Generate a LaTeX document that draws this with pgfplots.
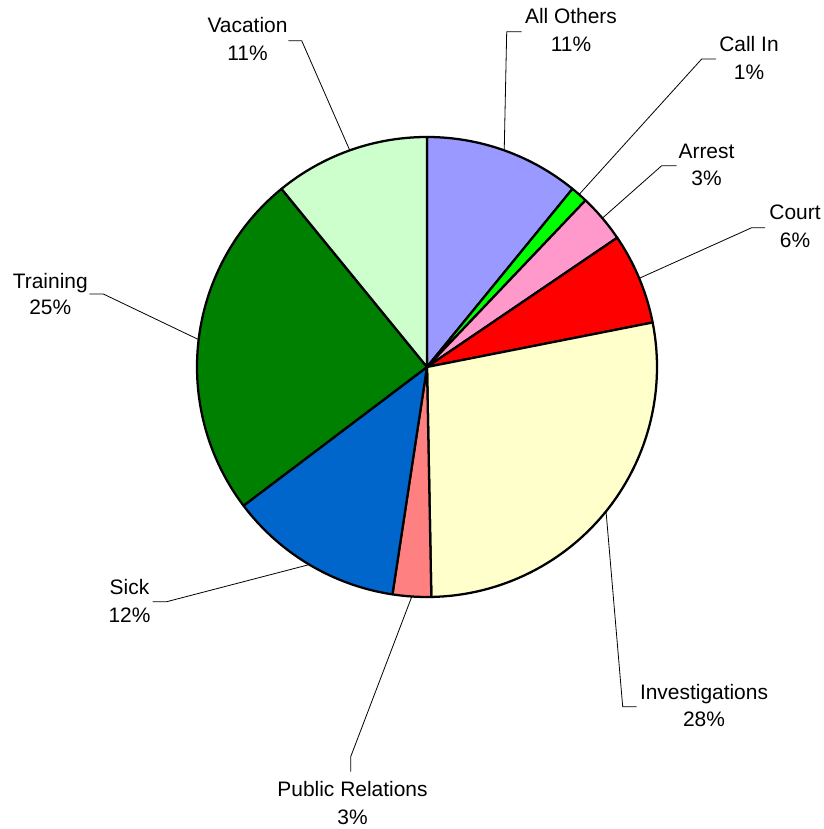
\documentclass[border=0pt]{standalone}
\usepackage{pgfplots}
\pgfplotsset{compat=1.18}
\usepackage{pgfplotstable}
\usepackage{fontspec}
\setmainfont{Liberation Sans}

\definecolor{slice0}{HTML}{9999FF}
\definecolor{slice1}{HTML}{00FF00}
\definecolor{slice2}{HTML}{FF99CC}
\definecolor{slice3}{HTML}{FF0000}
\definecolor{slice4}{HTML}{FFFFCC}
\definecolor{slice5}{HTML}{FF8080}
\definecolor{slice6}{HTML}{0066CC}
\definecolor{slice7}{HTML}{008000}
\definecolor{slice8}{HTML}{CCFFCC}

% share of each category (percent), clockwise from 12 o'clock
\pgfplotstableread{
label pct
AllOthers 10.9
CallIn 1.2
Arrest 3.4
Court 6.4
Investigations 27.8
PublicRelations 2.7
Sick 12.3
Training 24.4
Vacation 10.9
}\piedata

\def\cx{427}\def\cy{462}\def\rr{230}
\def\cum{0}
\pgfplotsforeachungrouped \i in {0,...,8}{%
  \pgfplotstablegetelem{\i}{pct}\of\piedata
  \pgfmathsetmacro\sa{90-3.6*\cum}%
  \pgfmathsetmacro\cum{\cum+\pgfplotsretval}%
  \pgfmathsetmacro\ea{90-3.6*\cum}%
  \pgfmathsetmacro\ma{(\sa+\ea)/2}%
  \pgfmathsetmacro\mx{\cx+\rr*cos(\ma)}%
  \pgfmathsetmacro\my{\cy+\rr*sin(\ma)}%
  \expandafter\xdef\csname ps\i\endcsname{\sa}%
  \expandafter\xdef\csname pe\i\endcsname{\ea}%
  \expandafter\xdef\csname pmx\i\endcsname{\mx}%
  \expandafter\xdef\csname pmy\i\endcsname{\my}%
}

\newcommand\lbl{\fontsize{15.7pt}{19pt}\selectfont}

\begin{document}
\begin{tikzpicture}[lb/.style={anchor=base, inner sep=0pt, font=\lbl}]
\begin{axis}[
  width=618pt, height=621.75pt, scale only axis,
  xmin=0, xmax=824, ymin=0, ymax=829,
  hide axis, clip=false,
]
\coordinate (BL) at (axis cs:0,0);
\coordinate (TR) at (axis cs:824,829);
% wedges
\pgfplotsinvokeforeach{0,...,8}{
  \edef\curS{\csname ps#1\endcsname}
  \edef\curE{\csname pe#1\endcsname}
  \addplot[draw=black, line width=1.7pt, line join=round, fill=slice#1,
    domain=\curE:\curS, samples=120, variable=\t]
    ({\cx+\rr*cos(\t)}, {\cy+\rr*sin(\t)}) -- (axis cs:\cx,\cy) -- cycle;
}
% leader lines
\def\leader#1#2{%
  \edef\tx{\csname pmx#1\endcsname}\edef\ty{\csname pmy#1\endcsname}%
  \edef\tmp{\noexpand\addplot[black, line width=0.6pt, forget plot] coordinates {#2 (\tx,\ty)};}%
  \tmp}
\leader{0}{(521.7,797.3) (506.7,797.3)}
\leader{1}{(716,770) (701.7,770)}
\leader{2}{(676.7,663.3) (661.7,663.3)}
\leader{3}{(765,601.3) (751.7,601.3)}
\leader{4}{(636.7,122.3) (622.7,122.3)}
\leader{5}{(350.7,57.3) (350.7,72.3)}
\leader{6}{(152.7,227.3) (166.7,227.3)}
\leader{7}{(89.3,535) (103.3,535)}
\leader{8}{(288.3,788.3) (301.7,788.3)}
% labels
\node[lb] at (axis cs:571,805) {All Others};
\node[lb] at (axis cs:571,777) {11\%};
\node[lb] at (axis cs:749,777) {Call In};
\node[lb] at (axis cs:749,749) {1\%};
\node[lb] at (axis cs:706.5,670.5) {Arrest};
\node[lb] at (axis cs:706.5,643.5) {3\%};
\node[lb] at (axis cs:795,609) {Court};
\node[lb] at (axis cs:795,581) {6\%};
\node[lb] at (axis cs:704,129) {Investigations};
\node[lb] at (axis cs:704,102) {28\%};
\node[lb] at (axis cs:352.5,32) {Public Relations};
\node[lb] at (axis cs:352.5,5) {3\%};
\node[lb] at (axis cs:129.5,234) {Sick};
\node[lb] at (axis cs:129.5,206.3) {12\%};
\node[lb] at (axis cs:50.3,540.7) {Training};
\node[lb] at (axis cs:50.3,514) {25\%};
\node[lb] at (axis cs:247.5,796) {Vacation};
\node[lb] at (axis cs:247.5,768) {11\%};
\end{axis}
\pgfresetboundingbox
\path[use as bounding box] (BL) rectangle (TR);
\end{tikzpicture}
\end{document}
